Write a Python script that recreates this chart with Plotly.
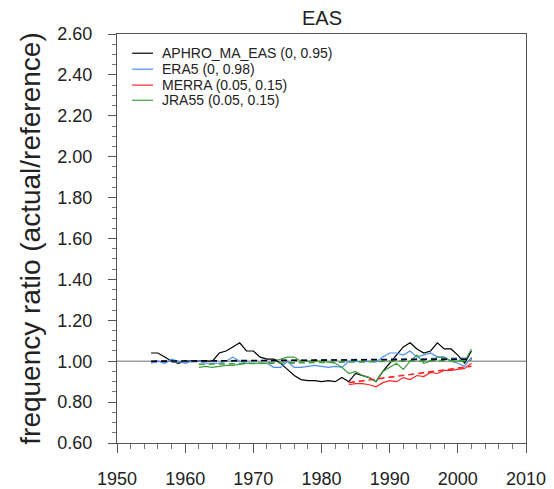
import plotly.graph_objects as go

years_aphro = list(range(1955, 2003))
aphro = [1.04, 1.04, 1.02, 1.00, 0.99, 1.00, 1.00, 1.00, 1.00, 1.00,
         1.04, 1.05, 1.07, 1.09, 1.05, 1.05, 1.02, 1.01, 1.01, 0.99,
         0.96, 0.93, 0.91, 0.905, 0.905, 0.90, 0.905, 0.90, 0.92, 0.90,
         0.94, 0.93, 0.92, 0.90, 0.95, 0.99, 1.03, 1.07, 1.09, 1.06,
         1.04, 1.05, 1.09, 1.06, 1.06, 1.03, 0.99, 1.05]

years_era5 = list(range(1955, 2003))
era5 = [0.99, 1.00, 0.99, 1.01, 1.00, 0.99, 1.00, 1.00, 0.99, 0.99,
        0.99, 1.00, 1.02, 1.00, 0.99, 0.99, 0.99, 0.99, 0.97, 0.97,
        1.00, 0.97, 0.97, 0.975, 0.98, 0.975, 0.97, 0.975, 0.97, 1.00,
        1.00, 0.995, 1.00, 0.995, 1.02, 1.04, 1.04, 1.03, 1.05, 1.02,
        1.03, 1.04, 1.02, 1.02, 1.00, 0.99, 0.975, 1.02]

years_merra = list(range(1984, 2003))
merra = [0.885, 0.89, 0.89, 0.885, 0.875, 0.895, 0.905, 0.90, 0.92, 0.91,
         0.93, 0.925, 0.945, 0.94, 0.955, 0.955, 0.96, 0.965, 0.99]

years_jra55 = list(range(1962, 2003))
jra55 = [0.97, 0.975, 0.97, 0.975, 0.98, 0.98, 0.985, 0.99, 0.99, 0.99,
         0.99, 1.00, 1.01, 1.02, 1.02, 1.00, 1.00, 1.00, 1.00, 0.995,
         0.99, 0.97, 0.94, 0.95, 0.93, 0.92, 0.90, 0.95, 0.97, 0.99,
         0.96, 1.00, 1.03, 0.99, 1.00, 1.02, 1.02, 1.00, 1.00, 1.00, 1.06]

# trend line values at first and last year of each series
trend_aphro = [1.00, 1.01]
trend_era5 = [0.995, 1.015]
trend_merra = [0.895, 0.975]
trend_jra55 = [0.985, 1.005]

names = ["APHRO_MA_EAS (0, 0.95)", "ERA5 (0, 0.98)", "MERRA (0.05, 0.15)", "JRA55 (0.05, 0.15)"]
colors = ["#000000", "#4d8df5", "#ff2424", "#3d9e3d"]

x_ticks = [1950, 1960, 1970, 1980, 1990, 2000, 2010]
y_ticks = [0.6, 0.8, 1.0, 1.2, 1.4, 1.6, 1.8, 2.0, 2.2, 2.4, 2.6]

series = [(years_aphro, aphro, trend_aphro), (years_era5, era5, trend_era5),
          (years_merra, merra, trend_merra), (years_jra55, jra55, trend_jra55)]

fig = go.Figure()

# reference line at 1.0
fig.add_trace(go.Scatter(x=[x_ticks[0], x_ticks[-1]], y=[1.0, 1.0], mode="lines",
                         line=dict(color="#a0a0a0", width=1.5), showlegend=False,
                         hoverinfo="skip"))

for (yrs, vals, tr), nm, c in zip(series, names, colors):
    fig.add_trace(go.Scatter(x=yrs, y=vals, mode="lines", name=nm,
                             line=dict(color=c, width=1.2), showlegend=False))

for i in [1, 3, 2, 0]:
    yrs, vals, tr = series[i]
    fig.add_trace(go.Scatter(x=[yrs[0], yrs[-1]], y=tr, mode="lines",
                             line=dict(color=colors[i], width=1.6, dash="6px,4px"),
                             showlegend=False, hoverinfo="skip"))

# manual legend (short lines, tight spacing)
leg_y = [0.953, 0.914, 0.875, 0.838]
for nm, c, yy in zip(names, colors, leg_y):
    fig.add_shape(type="line", xref="paper", yref="paper", x0=0.037, x1=0.088,
                  y0=yy, y1=yy, line=dict(color=c, width=1.2))
    fig.add_annotation(xref="paper", yref="paper", x=0.104, y=yy, text=nm,
                       showarrow=False, xanchor="left", yanchor="middle",
                       font=dict(size=14, color="#222222"))

# title
fig.add_annotation(xref="paper", yref="paper", x=0.5, y=1.0, yshift=3,
                   text="EAS", showarrow=False, xanchor="center", yanchor="bottom",
                   font=dict(size=20, color="#222222"))

fig.update_layout(
    width=546, height=481,
    margin=dict(l=109, r=28, t=26, b=46),
    paper_bgcolor="white", plot_bgcolor="white",
    font=dict(family="Liberation Sans, Arial, sans-serif", color="#222222"),
    showlegend=False,
)

fig.update_xaxes(range=[1950, 2010], tickvals=x_ticks,
                 ticks="outside", ticklen=9, tickwidth=1, tickcolor="#555555",
                 minor=dict(dtick=2, ticks="outside", ticklen=5, tickcolor="#777777"),
                 showline=True, linecolor="#555555", linewidth=1, mirror=True,
                 showgrid=False, zeroline=False, automargin=False,
                 ticklabelstandoff=10,
                 tickfont=dict(size=18, color="#222222"))

fig.update_yaxes(range=[0.6, 2.6], tickvals=y_ticks,
                 tickformat=".2f",
                 ticks="outside", ticklen=8, tickwidth=1, tickcolor="#555555",
                 minor=dict(dtick=0.05, ticks="outside", ticklen=4, tickcolor="#777777"),
                 showline=True, linecolor="#555555", linewidth=1, mirror=True,
                 showgrid=False, zeroline=False, automargin=False,
                 ticklabelstandoff=12,
                 tickfont=dict(size=18, color="#222222"),
                 title=dict(text="frequency ratio (actual/reference)",
                            font=dict(size=28, color="#222222"), standoff=8))

fig.write_html("out.html")
